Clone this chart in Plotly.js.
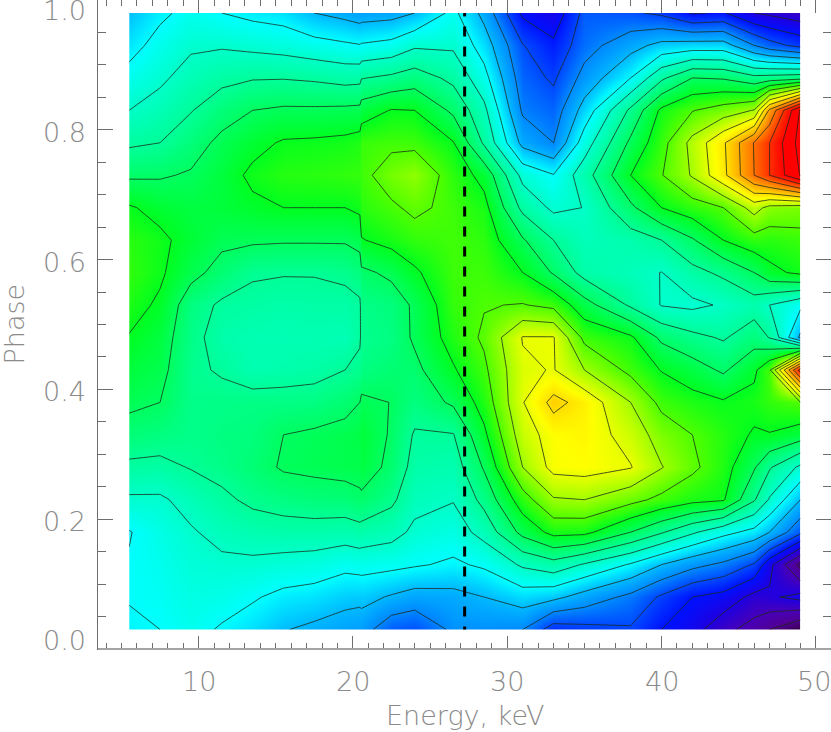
<!DOCTYPE html>
<html>
<head>
<meta charset="utf-8">
<title>Phase vs energy</title>
<script src="https://cdn.plot.ly/plotly-3.0.1.min.js"></script>
<style>
  html, body { margin: 0; padding: 0; background: #fff; }
  #chart { width: 831px; height: 732px; }
</style>
</head>
<body>
<div id="chart"></div>
<script>
// phase bins, bottom to top
const phase = [0.03, 0.08, 0.13, 0.18, 0.23, 0.28, 0.33, 0.38, 0.43, 0.48,
               0.53, 0.58, 0.63, 0.68, 0.73, 0.78, 0.83, 0.88, 0.93, 0.98];

// energy bins, keV (20.45 / 20.55 is the seam between the two instruments)
const energy = [5.5, 7.5, 9.5, 11.5, 13.5, 15.5, 17.5, 19.5, 20.45, 20.55, 22.5, 24,
                26.5, 28.5, 31, 33, 35, 38, 40, 42, 44, 46, 47, 49];

// one list per energy bin, value per phase bin
const e05_5 = [0.85, 1.05, 1.06, 0.95, 1.85, 2.8, 3.6, 4.2, 4.55, 4.95, 5.35, 5.6, 5.5, 5.1, 3.85, 2.85, 2, 1.33, 0.65, 0.1];
const e07_5 = [1, 1.2, 1.3, 1.47, 1.85, 2.75, 3.45, 4, 4.3, 4.5, 4.85, 5.15, 5.2, 4.7, 3.9, 3, 2.4, 1.82, 1.35, 0.8];
const e09_5 = [1.3, 1.5, 1.7, 1.9, 2.35, 3.05, 3.25, 3.25, 3.18, 3.3, 3.43, 4.3, 4.65, 4.5, 4.1, 3.55, 2.95, 2.4, 1.85, 1.3];
const e11_5 = [0.9, 1.4, 1.8, 2.3, 2.8, 3.3, 3.45, 3.3, 2.9, 2.6, 2.85, 3.65, 4.2, 4.6, 4.55, 4.25, 3.55, 2.75, 1.9, 1];
const e13_5 = [0.55, 1.1, 1.8, 2.5, 3.2, 3.65, 3.5, 3.35, 2.5, 2.45, 2.75, 3.1, 4.15, 4.8, 5.2, 4.7, 4, 2.93, 1.75, 0.75];
const e15_5 = [0.05, 0.75, 1.65, 2.6, 3.4, 4.1, 4, 3.35, 2.6, 2.4, 2.65, 3.05, 4.1, 5, 5.45, 5.1, 4.15, 2.95, 1.6, 0.6];
const e17_5 = [-0.2, 0.6, 1.55, 2.6, 3.55, 4.2, 4.15, 3.4, 2.7, 2.45, 2.7, 3.05, 4.1, 5, 5.5, 5.15, 4.15, 2.85, 1.35, 0];
const e19_5 = [-0.45, 0.3, 1.25, 2.5, 3.6, 4.3, 4.3, 3.7, 3, 2.4, 2.7, 3.2, 4.1, 5, 5.6, 5.25, 4.2, 2.65, 1.15, -0.3];
const e20_45 = [-0.55, 0.25, 1.35, 2.65, 3.8, 4.35, 4.4, 4, 3.2, 2.9, 2.85, 3.5, 4.3, 5.2, 5.65, 5.4, 4.25, 2.7, 1.05, -0.5];
const e20_55 = [-0.55, 0.3, 1.35, 2.6, 3.8, 4.5, 4.6, 4.2, 3.4, 3.15, 3.3, 3.8, 4.95, 5.5, 5.75, 5.7, 4.5, 2.95, 1.1, -0.45];
const e22_5 = [-1.7, -0.1, 1.25, 2.35, 3.2, 3.75, 3.9, 3.98, 3.7, 3.4, 3.5, 4.2, 5.3, 5.85, 6.45, 5.8, 5.05, 3.2, 1.3, -0.35];
const e24_0 = [-1.9, -0.4, 1.1, 1.8, 2.3, 2.65, 2.9, 3.45, 3.75, 4.15, 4.15, 4.85, 5.6, 6.2, 6.8, 5.75, 5, 3.5, 1.85, 0];
const e26_5 = [-0.8, -0.3, 0.85, 1.5, 2.05, 2.5, 2.95, 4.15, 4.9, 5.4, 5.65, 5.75, 5.8, 5.75, 5.55, 5.05, 3.8, 2.75, 1.85, 1.25];
const e28_5 = [-0.85, 0, 1.15, 2.35, 3.3, 4.1, 4.8, 5.4, 5.8, 6.15, 5.95, 5.75, 5.55, 5.3, 4.7, 2.85, 2.25, 1.35, 0.55, -0.3];
const e31_0 = [-1, 0.5, 2.15, 4.3, 5.55, 7, 7.55, 7.95, 7.85, 8.05, 6.05, 5, 4.1, 2.75, 1.7, -0.3, -1.15, -1.55, -1.95, -3.2];
const e33_0 = [-2.5, 0.25, 2.6, 5.3, 6.9, 8.3, 8.4, 9.3, 8.05, 8.05, 5.75, 3.9, 3, 1.8, 1.05, -1, -1.55, -2.15, -2.8, -3.7];
const e35_0 = [-2.3, -0.4, 1.9, 5.25, 7, 8.4, 8.55, 8.65, 7, 5.75, 4.4, 2.65, 2.3, 2.02, 2.55, 1.5, 0.4, -0.65, -1.4, -1.7];
const e38_0 = [-2.1, -1.25, 0.9, 4, 6.3, 8.05, 7.6, 7, 5.75, 5.15, 2.85, 2.3, 2.55, 3.8, 5, 4.2, 3.2, 1, -0.35, -1.85];
const e40_0 = [-3, -2.15, 0, 3.1, 5.75, 7.05, 6.55, 5.75, 4.95, 3.8, 1.95, 1.98, 3, 5, 5.95, 5.65, 5.2, 2.8, 0.3, -2.2];
const e42_0 = [-3.6, -3, -0.7, 2.15, 5.3, 6.2, 6, 5.35, 4.45, 3.25, 1.8, 2.7, 3.9, 5.55, 7.1, 7.3, 5.95, 4, 0.45, -3.1];
const e44_0 = [-4.7, -3.35, -1.2, 1.3, 5.1, 5.4, 5.45, 5.1, 3.85, 2.9, 2.1, 3.2, 5, 6, 8.75, 8.85, 6.45, 3.9, 0.45, -2.9];
const e46_0 = [-5.4, -4.3, -2.1, 0.7, 3.1, 4.1, 4.9, 5.3, 4.8, 3.55, 2.55, 4, 5.6, 7.4, 11, 11.05, 7.05, 3.3, -1, -4];
const e47_0 = [-6, -4.15, -3.7, 0, 1.9, 3.1, 4.95, 5.6, 5.85, 2.95, 2, 4.75, 5.5, 6.7, 12, 12, 10.2, 3.4, -1.6, -4.2];
const e49_0 = [-6.95, -3.7, -6.3, -1.75, 0, 1.8, 4.5, 6, 12.5, -0.2, 1.2, 5.2, 5.7, 6.5, 14.05, 14.4, 14.1, 3.6, -2.3, -4.6];

const columns = [e05_5, e07_5, e09_5, e11_5, e13_5, e15_5, e17_5, e19_5, e20_45, e20_55, e22_5, e24_0,
                 e26_5, e28_5, e31_0, e33_0, e35_0, e38_0, e40_0, e42_0, e44_0, e46_0, e47_0, e49_0];

// colour at each contour level
const levelStops  = [-8, -7, -6, -5, -4, -3, -2, -1, 0, 1, 2, 3, 4, 5, 6, 7, 8, 8.4, 9, 10, 11, 12, 13, 15];
const levelColors = ['#180018', '#300040', '#500090', '#4800b8', '#2000e0', '#0010ff', '#0048ff', '#0088ff', '#00b8ff',
                     '#00ffff', '#00ffc8', '#00ff98', '#00ff60', '#00ff20', '#50ff00', '#a0ff00', '#e8ff00',
                     '#ffff00', '#ffe000', '#ffa800', '#ff7000', '#ff3000', '#ff0000', '#ff0000'];

// dashed marker, top stub then the rest so the dashes fall in step with the picture
const markerEnergy = [27.24, 27.24, null, 27.24, 27.24];
const markerPhase = [0.98, 0.9747, null, 0.9593, 0.03];

const xTickVals = [10, 20, 30, 40, 50];
const xTickText = ['10', '20', '30', '40', '50'];
const xTickShift = [0, 0, 0, 0, -2];
const yTickVals = [0, 0.2, 0.4, 0.6, 0.8, 1];
const yTickText = ['0.0', '0.2', '0.4', '0.6', '0.8', '1.0'];
const yTickShift = [9, -2.5, -2.5, -2.5, -2.5, -10];

const AXIS_COLOR = '#6e6e6e';
const TEXT_COLOR = '#8a8a8a';
const FONT = { family: 'DejaVu Sans Light, DejaVu Sans, sans-serif', size: 27, color: TEXT_COLOR, weight: 200 };

const zRows = phase.map((_, i) => columns.map(col => col[i]));
const zMin = levelStops[0];
const zMax = levelStops[levelStops.length - 1];
const colorscale = levelStops.map((s, i) => [(s - zMin) / (zMax - zMin), levelColors[i]]);

const traces = [
  {
    type: 'contour',
    x: energy,
    y: phase,
    z: zRows,
    zmin: zMin,
    zmax: zMax,
    colorscale: colorscale,
    showscale: false,
    hoverinfo: 'skip',
    contours: { coloring: 'heatmap', start: -7, end: 14, size: 1, showlines: true },
    line: { color: '#1c2a1c', width: 0.8, smoothing: 0 }
  },
  {
    type: 'scatter',
    mode: 'lines',
    x: markerEnergy,
    y: markerPhase,
    hoverinfo: 'skip',
    line: { color: '#000', width: 3, dash: '10px,10px' }
  }
];

// tick labels drawn as annotations: the 0.0 / 1.0 labels sit inside the frame and 50 touches the page edge
const yLabels = yTickVals.map((v, i) => ({
  xref: 'paper', yref: 'y',
  x: 0, y: v,
  xshift: -10,
  yshift: yTickShift[i],
  xanchor: 'right',
  yanchor: 'middle',
  showarrow: false,
  text: yTickText[i],
  font: FONT
}));
const xLabels = xTickVals.map((v, i) => ({
  xref: 'x', yref: 'paper',
  x: v, y: 0,
  xshift: xTickShift[i],
  yshift: -32,
  xanchor: 'center',
  yanchor: 'middle',
  showarrow: false,
  text: xTickText[i],
  font: FONT
}));

const layout = {
  width: 831,
  height: 732,
  paper_bgcolor: '#fff',
  plot_bgcolor: '#fff',
  showlegend: false,
  font: FONT,
  margin: { l: 97.5, r: 0.3, t: 0.3, b: 83 },
  xaxis: {
    range: [3.48, 50.98],
    tickmode: 'array',
    tickvals: xTickVals,
    showticklabels: false,
    ticks: 'inside',
    ticklen: 13,
    tickwidth: 1,
    tickcolor: AXIS_COLOR,
    minor: { dtick: 1, ticks: 'inside', ticklen: 6, tickwidth: 1, tickcolor: AXIS_COLOR, showgrid: false },
    showgrid: false,
    zeroline: false,
    showline: true,
    linecolor: AXIS_COLOR,
    linewidth: 1,
    mirror: 'allticks'
  },
  yaxis: {
    range: [0, 1],
    tickmode: 'array',
    tickvals: yTickVals,
    showticklabels: false,
    ticks: 'inside',
    ticklen: 15,
    tickwidth: 1,
    tickcolor: AXIS_COLOR,
    minor: { dtick: 0.05, ticks: 'inside', ticklen: 8, tickwidth: 1, tickcolor: AXIS_COLOR, showgrid: false },
    showgrid: false,
    zeroline: false,
    showline: true,
    linecolor: AXIS_COLOR,
    linewidth: 1,
    mirror: 'allticks'
  },
  // the bottom frame line reads heavier and lighter than the others
  shapes: [
    { type: 'line', xref: 'paper', yref: 'paper', x0: 0, x1: 1, y0: 0, y1: 0, line: { color: '#a4a4a4', width: 2 } }
  ],
  annotations: yLabels.concat(xLabels, [
    {
      xref: 'paper', yref: 'paper',
      x: 0.5, y: 0,
      yshift: -66,
      xanchor: 'center',
      yanchor: 'middle',
      showarrow: false,
      text: 'Energy, keV',
      font: FONT
    },
    {
      xref: 'paper', yref: 'paper',
      x: 0, y: 0.5,
      xshift: -84,
      xanchor: 'center',
      yanchor: 'middle',
      textangle: -90,
      showarrow: false,
      text: 'Phase',
      font: FONT
    }
  ])
};

Plotly.newPlot('chart', traces, layout, { displayModeBar: false, staticPlot: true });
</script>
</body>
</html>
